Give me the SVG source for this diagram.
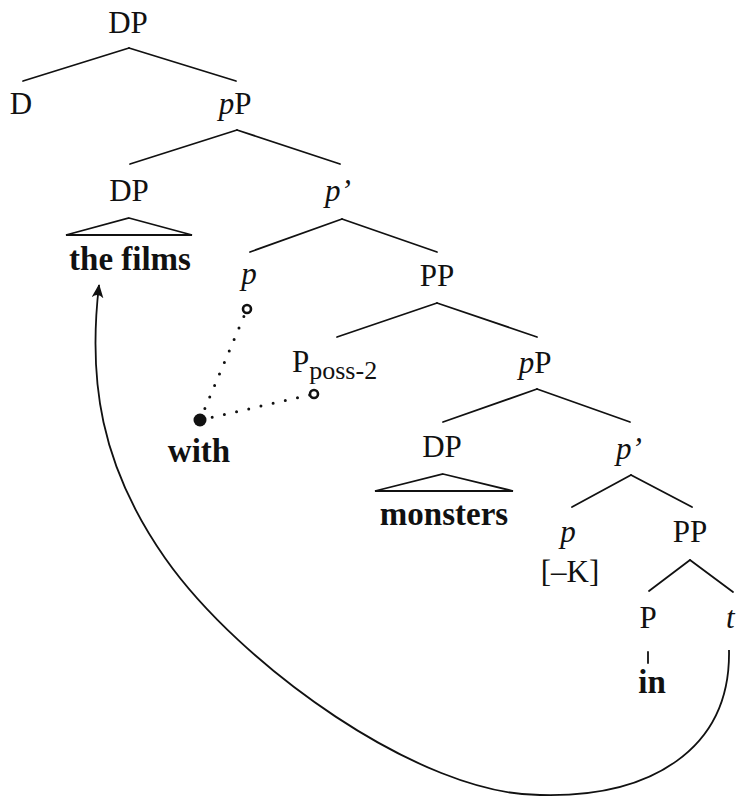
<svg xmlns="http://www.w3.org/2000/svg" width="738" height="798" viewBox="0 0 738 798">
  <defs>
    <style>
      .lbl { font-family: "Liberation Serif", "Times New Roman", serif; font-size: 31px; fill: #111; text-anchor: middle; }
      .it { font-style: italic; }
      .word { font-family: "Liberation Serif", "Times New Roman", serif; font-size: 33px; font-weight: bold; fill: #111; text-anchor: middle; }
      .sub { font-size: 26px; }
      .branch { stroke: #111; stroke-width: 1.8; fill: none; stroke-linecap: round; }
      .tri { stroke: #111; stroke-width: 1.8; fill: none; stroke-linejoin: miter; }
      .dots { stroke: #111; stroke-width: 3; fill: none; stroke-linecap: round; stroke-dasharray: 0 12.5; }
      .ring { stroke: #111; stroke-width: 2.6; fill: #fff; }
      .move { stroke: #111; stroke-width: 1.8; fill: none; }
    </style>
    <marker id="arrow" viewBox="0 0 14 12" refX="13" refY="6" markerWidth="14" markerHeight="12" markerUnits="userSpaceOnUse" orient="auto">
      <path d="M0,0 Q6,6 0,12 L14,6 Z" fill="#111"/>
    </marker>
  </defs>

  <!-- tree branches, triangles, association dots and movement arrow -->
  <g id="connectors">
    <line class="branch" x1="129" y1="48" x2="23" y2="81"/>
    <line class="branch" x1="129" y1="48" x2="236" y2="81"/>
    <line class="branch" x1="237" y1="130" x2="130" y2="164"/>
    <line class="branch" x1="237" y1="130" x2="340" y2="164"/>
    <line class="branch" x1="342" y1="219" x2="250" y2="252"/>
    <line class="branch" x1="342" y1="219" x2="437" y2="252"/>
    <line class="branch" x1="437" y1="303" x2="337" y2="337"/>
    <line class="branch" x1="437" y1="303" x2="537" y2="337"/>
    <line class="branch" x1="537" y1="389" x2="443" y2="422"/>
    <line class="branch" x1="537" y1="389" x2="630" y2="422"/>
    <line class="branch" x1="631" y1="475" x2="572" y2="507"/>
    <line class="branch" x1="631" y1="475" x2="692" y2="507"/>
    <line class="branch" x1="690" y1="560" x2="649" y2="591"/>
    <line class="branch" x1="690" y1="560" x2="733" y2="592"/>
    <line class="branch" x1="648" y1="652" x2="648" y2="663"/>
    <polygon class="tri" points="129,218 192,235 66,235"/>
    <polygon class="tri" points="443,474 513,491 375,491"/>
    <line class="dots" x1="200" y1="420" x2="247" y2="309"/>
    <line class="dots" x1="200" y1="420" x2="314" y2="394"/>
    <path class="move" marker-end="url(#arrow)" d="M729,650 C731,750 650,798 540,795 C420,795 240,665 165,558 C100,465 88,380 99,285"/>
  </g>

  <g id="dp-top"><text class="lbl" x="128" y="33">DP</text></g>
  <g id="d-head"><text class="lbl" x="21" y="114">D</text></g>
  <g id="pp-1"><text class="lbl" x="235" y="114"><tspan class="it">p</tspan>P</text></g>
  <g id="dp-films">
    <text class="lbl" x="129" y="201">DP</text>
    <text class="word" x="130" y="270">the films</text>
  </g>
  <g id="pbar-1"><text class="lbl" x="338" y="201"><tspan class="it">p’</tspan></text></g>
  <g id="p-head-1">
    <text class="lbl it" x="249" y="284">p</text>
    <circle class="ring" cx="247" cy="309" r="4"/>
  </g>
  <g id="pp-2"><text class="lbl" x="437" y="286">PP</text></g>
  <g id="p-poss">
    <text class="lbl" x="292" y="372" style="text-anchor:start">P<tspan class="sub" dy="7">poss-2</tspan></text>
    <circle class="ring" cx="314" cy="394" r="4"/>
  </g>
  <g id="with">
    <circle cx="200" cy="420" r="6.5" fill="#111"/>
    <text class="word" x="199" y="462">with</text>
  </g>
  <g id="pp-3"><text class="lbl" x="535" y="373"><tspan class="it">p</tspan>P</text></g>
  <g id="dp-monsters">
    <text class="lbl" x="442" y="457">DP</text>
    <text class="word" x="444" y="525">monsters</text>
  </g>
  <g id="pbar-2"><text class="lbl" x="629" y="459"><tspan class="it">p’</tspan></text></g>
  <g id="p-head-2">
    <text class="lbl it" x="568" y="542">p</text>
    <text class="lbl" x="570" y="582">[–K]</text>
  </g>
  <g id="pp-4"><text class="lbl" x="690" y="542">PP</text></g>
  <g id="p-in">
    <text class="lbl" x="648" y="628">P</text>
    <text class="word" x="652" y="693">in</text>
  </g>
  <g id="trace"><text class="lbl it" x="726" y="628" style="text-anchor:start">t</text></g>
</svg>
